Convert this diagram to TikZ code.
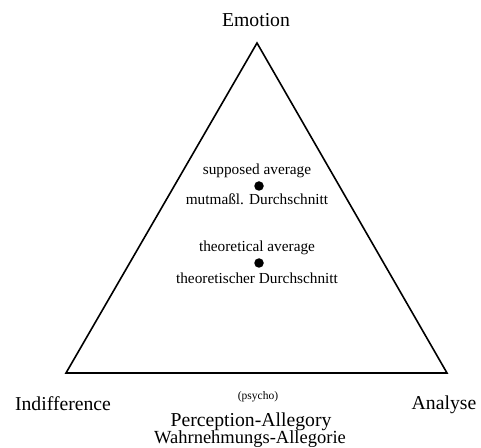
\documentclass[tikz,border=0pt]{standalone}
\usepackage{fontspec}
\setmainfont{Liberation Serif}
\begin{document}
\begin{tikzpicture}[x=1pt,y=1pt,
  big/.style={inner sep=0pt,anchor=base,font=\fontsize{19.7}{22}\selectfont},
  mid/.style={inner sep=0pt,anchor=base,font=\fontsize{15.3}{17}\selectfont},
  small/.style={inner sep=0pt,anchor=base,font=\fontsize{11.5}{13}\selectfont},
  dotmark/.style={circle,fill=black,inner sep=0pt,minimum size=9.5pt},
  edge/.style={line width=1.6pt,line join=miter}]
\useasboundingbox (0,0) rectangle (481,447);
\coordinate (top) at (257,404);
\coordinate (bl) at (66,74);
\coordinate (br) at (447,74);
\draw[edge] (top) -- (bl) -- (br) -- cycle;
\node[big] (emo) at (256,420) {Emotion};
\node[big] (ind) at (63,37) {Indifference};
\node[big] (ana) at (444,38) {Analyse};
\node[small] (psy) at (258,48) {(psycho)};
\node[big] (per) at (251,21) {Perception-Allegory};
\node[big,font=\fontsize{18.5}{20}\selectfont] (wah) at (250,4) {Wahrnehmungs-Allegorie};
\node[mid] (sup) at (257,272) {supposed average};
\node[dotmark] (d1) at (259,261) {};
\node[mid] (mut) at (257,242) {mutmaßl. Durchschnitt};
\node[mid] (the) at (257,195) {theoretical average};
\node[dotmark] (d2) at (259,184) {};
\node[mid] (thd) at (257,164) {theoretischer Durchschnitt};
\end{tikzpicture}
\end{document}
